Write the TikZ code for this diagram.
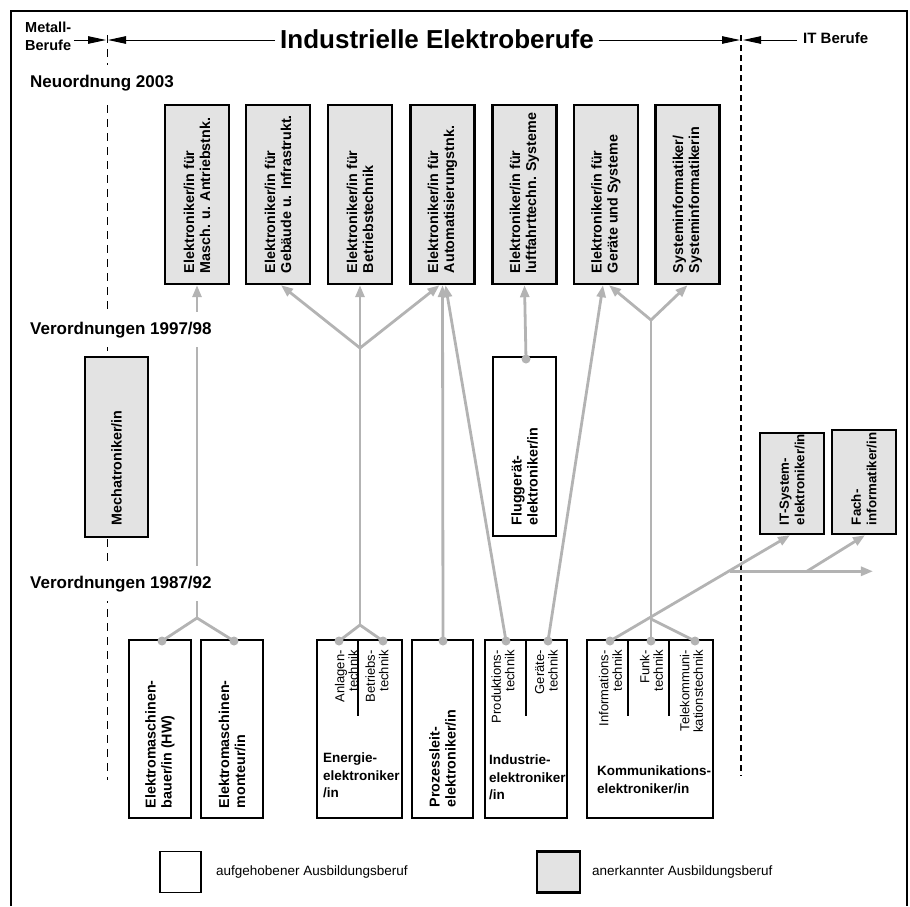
\documentclass[tikz,border=0pt]{standalone}
\usepackage{fontspec}
\setmainfont{Liberation Sans}
\usetikzlibrary{arrows.meta,calc}
\definecolor{boxgray}{HTML}{E3E3E3}
\definecolor{linegray}{HTML}{B3B3B3}
\newcommand{\myfs}[2]{\fontsize{#1}{#2}\selectfont}
\begin{document}
\begin{tikzpicture}[x=1pt,y=-1pt,
 newbox/.style={draw=black,line width=2.4pt,fill=boxgray,inner sep=0pt},
 oldbox/.style={draw=black,line width=1.1pt,fill=white,inner sep=0pt},
 vtext/.style={rotate=90,anchor=west,align=left,inner sep=0pt,font=\bfseries\myfs{14.3}{16}},
 subtext/.style={rotate=90,anchor=east,align=right,inner sep=0pt,font=\myfs{13}{13.5}},
 htext/.style={anchor=north west,align=left,inner sep=0pt,font=\bfseries\myfs{13.5}{17.5}},
 conn/.style={draw=linegray,line width=2.8pt},
 carrow/.style={conn,-{Triangle[length=12pt,width=9pt]}},
 dot/.style={circle,fill=linegray,inner sep=0pt,minimum size=9pt},
 harrow/.style={line width=1pt,-{Triangle[length=18pt,width=7.5pt]}},
 period/.style={anchor=base west,fill=white,inner xsep=3pt,inner ysep=9.5pt,font=\bfseries\myfs{17}{20}},
 divider/.style={line width=1.1pt},
 legtext/.style={anchor=west,inner sep=0pt,font=\myfs{13.5}{16}}
]
\useasboundingbox (0,0) rectangle (910,906);

% frame
\coordinate (fbl) at (11,906); \coordinate (ftl) at (11,11);
\coordinate (ftr) at (907,11); \coordinate (fbr) at (907,906);
\draw[line width=2pt] (fbl) -- (ftl) -- (ftr) -- (fbr);

% separators
\coordinate (lt) at (107,35); \coordinate (lb) at (107,780);
\coordinate (rt) at (741,35); \coordinate (rb) at (741,776);
\draw[line width=0.9pt,dash pattern=on 8pt off 6pt] (lt) -- (lb);
\draw[line width=1.8pt,dash pattern=on 6pt off 4pt] (rt) -- (rb);

% header
\node[anchor=north west,align=left,inner sep=0pt,font=\bfseries\myfs{14.5}{18}] (metall) at (25,22) {Metall-\\Berufe};
\node[inner sep=5pt,font=\bfseries\myfs{26}{30}] (title) at (437,39) {Industrielle Elektroberufe};
\node[anchor=base west,inner sep=0pt,font=\bfseries\myfs{15}{18}] (itb) at (803,43) {IT Berufe};
\coordinate (mtip) at (106,40); \coordinate (ltip) at (108,40);
\coordinate (rtip) at (740,40); \coordinate (itip) at (743,40);
\draw[harrow] ([xshift=3pt]metall.east |- mtip) -- (mtip);
\draw[harrow] (title.west |- ltip) -- (ltip);
\draw[harrow] (title.east |- rtip) -- (rtip);
\draw[harrow] ([xshift=-6pt]itb.west |- itip) -- (itip);

% boxes
\node[newbox,minimum width=64pt,minimum height=179pt] (b1) at (197,194.5) {};
\node[newbox,minimum width=64pt,minimum height=179pt] (b2) at (278,194.5) {};
\node[newbox,minimum width=64pt,minimum height=179pt] (b3) at (360,194.5) {};
\node[newbox,minimum width=64pt,minimum height=179pt] (b4) at (442.5,194.5) {};
\node[newbox,minimum width=64pt,minimum height=179pt] (b5) at (524.5,194.5) {};
\node[newbox,minimum width=64pt,minimum height=179pt] (b6) at (606,194.5) {};
\node[newbox,minimum width=64pt,minimum height=179pt] (b7) at (687.5,194.5) {};

\node[newbox,minimum width=63pt,minimum height=180pt] (mech) at (116.5,447) {};
\node[oldbox,minimum width=63pt,minimum height=179pt] (flug) at (524.5,446.5) {};
\node[newbox,minimum width=64pt,minimum height=101pt] (itsys) at (792,483.5) {};
\node[newbox,minimum width=64pt,minimum height=104pt] (fach) at (864,482) {};

\node[oldbox,minimum width=62pt,minimum height=178pt] (emb) at (160,729) {};
\node[oldbox,minimum width=62pt,minimum height=178pt] (emm) at (232,729) {};
\node[oldbox,minimum width=85pt,minimum height=178pt] (ene) at (359.5,729) {};
\node[oldbox,minimum width=61pt,minimum height=178pt] (pro) at (442.5,729) {};
\node[oldbox,minimum width=82pt,minimum height=178pt] (ind) at (526,729) {};
\node[oldbox,minimum width=126pt,minimum height=178pt] (kom) at (650,729) {};

% dividers inside old boxes
\draw[divider] ($(ene.north)+(-1.5,0)$) -- ++(0,77);
\draw[divider] (ind.north) -- ++(0,77);
\draw[divider] ($(kom.north)+(-22,0)$) -- ++(0,77);
\draw[divider] ($(kom.north)+(19,0)$) -- ++(0,77);

% dots and junctions
\coordinate (dEMB) at (162,641);
\coordinate (dEMM) at (234,641);
\coordinate (dAnl) at (339,641);
\coordinate (dBet) at (383,641);
\coordinate (dPro) at (443,641);
\coordinate (dProd) at (506,641);
\coordinate (dGer) at (548,641);
\coordinate (dFl) at (526,359);
\coordinate (dInf) at (610,641);
\coordinate (dFunk) at (651,641);
\coordinate (dTel) at (695,641);
\coordinate (fEM) at (197,618);
\coordinate (fEn1) at (360,625);
\coordinate (fEn2) at (360,348);
\coordinate (fK1) at (651,619);
\coordinate (fK2) at (651,320);
\coordinate (jIT) at ($(dInf)!0.659!(itsys.south)$);
\coordinate (hend) at ($(jIT)+(143,0)$);
\coordinate (jF) at ($(jIT)!0.538!(hend)$);

% connectors
\draw[conn] (dEMB) -- (fEM) -- (dEMM);
\draw[carrow] (fEM) -- (b1.south);
\draw[conn] (dAnl) -- (fEn1) -- (dBet);
\draw[conn] (fEn1) -- (fEn2);
\draw[carrow] (fEn2) -- ($(b2.south)+(3,0)$);
\draw[carrow] (fEn2) -- (b3.south);
\draw[carrow] (fEn2) -- ($(b4.south)+(-3,0)$);
\draw[carrow] (dPro) -- (b4.south);
\draw[carrow] (dProd) -- ($(b4.south)+(3,0)$);
\draw[carrow] (dGer) -- ($(b6.south)+(-3,0)$);
\draw[carrow] (dFl) -- (b5.south);
\draw[conn] (dFunk) -- (fK2);
\draw[conn] (dTel) -- (fK1);
\draw[carrow] (fK2) -- ($(b6.south)+(3,0)$);
\draw[carrow] (fK2) -- (b7.south);
\draw[carrow] (dInf) -- ($(itsys.south)+(-2,0)$);
\draw[carrow] (jIT) -- (hend);
\draw[carrow] (jF) -- ($(fach.south)+(1,0)$);

\node[dot] (dEMBc) at (dEMB) {};
\node[dot] (dEMMc) at (dEMM) {};
\node[dot] (dAnlc) at (dAnl) {};
\node[dot] (dBetc) at (dBet) {};
\node[dot] (dProc) at (dPro) {};
\node[dot] (dProdc) at (dProd) {};
\node[dot] (dGerc) at (dGer) {};
\node[dot] (dFlc) at (dFl) {};
\node[dot] (dInfc) at (dInf) {};
\node[dot] (dFunkc) at (dFunk) {};
\node[dot] (dTelc) at (dTel) {};

% texts in boxes
\node[vtext] (b1t) at ($(b1.south)+(0,-12)$) {Elektroniker/in für\\Masch. u. Antriebstnk.};
\node[vtext] (b2t) at ($(b2.south)+(0,-12)$) {Elektroniker/in für\\Gebäude u. Infrastrukt.};
\node[vtext] (b3t) at ($(b3.south)+(0,-12)$) {Elektroniker/in für\\Betriebstechnik};
\node[vtext] (b4t) at ($(b4.south)+(0,-12)$) {Elektroniker/in für\\Automatisierungstnk.};
\node[vtext] (b5t) at ($(b5.south)+(0,-12)$) {Elektroniker/in für\\luftfahrttechn. Systeme};
\node[vtext] (b6t) at ($(b6.south)+(0,-12)$) {Elektroniker/in für\\Geräte und Systeme};
\node[vtext] (b7t) at ($(b7.south)+(0,-12)$) {Systeminformatiker/\\Systeminformatikerin};
\node[vtext] (mecht) at ($(mech.south)+(0,-13)$) {Mechatroniker/in};
\node[vtext] (flugt) at ($(flug.south)+(0,-11)$) {Fluggerät-\\elektroniker/in};
\node[vtext,font=\bfseries\myfs{13.3}{15.5}] (itsyst) at ($(itsys.south)+(0,-10)$) {IT-System-\\elektroniker/in};
\node[vtext,font=\bfseries\myfs{13.3}{15.5}] (facht) at ($(fach.south)+(0,-10)$) {Fach-\\informatiker/in};
\node[vtext] (embt) at ($(emb.south)+(0,-10)$) {Elektromaschinen-\\bauer/in (HW)};
\node[vtext] (emmt) at ($(emm.south)+(0,-10)$) {Elektromaschinen-\\monteur/in};
\node[vtext] (prot) at ($(pro.south)+(0,-11)$) {Prozessleit-\\elektroniker/in};

\node[subtext] (sAnl) at (346.5,650) {Anlagen-\\technik};
\node[subtext] (sBet) at (377,650) {Betriebs-\\technik};
\node[subtext] (sProd) at (503,650) {Produktions-\\technik};
\node[subtext] (sGer) at (546.5,650) {Geräte-\\technik};
\node[subtext] (sInf) at (610.5,650) {Informations-\\technik};
\node[subtext] (sFunk) at (651.5,650) {Funk-\\technik};
\node[subtext] (sTel) at (691.5,650) {Telekommuni-\\kationstechnik};

\node[htext] (enet) at (323,753) {Energie-\\elektroniker\\/in};
\node[htext] (indt) at (489,755) {Industrie-\\elektroniker\\/in};
\node[htext] (komt) at (597,766) {Kommunikations-\\elektroniker/in};

% period labels
\node[period] (p2003) at (27,87) {Neuordnung 2003};
\node[period] (p9798) at (27,334) {Verordnungen 1997/98};
\node[period] (p8792) at (27,588) {Verordnungen 1987/92};

% legend
\node[oldbox,minimum width=41pt,minimum height=41pt] (lgold) at (180.5,872) {};
\node[legtext] (lgoldt) at (216,872) {aufgehobener Ausbildungsberuf};
\node[newbox,minimum width=43pt,minimum height=41pt] (lgnew) at (558.5,872) {};
\node[legtext] (lgnewt) at (592,872) {anerkannter Ausbildungsberuf};
\end{tikzpicture}
\end{document}
